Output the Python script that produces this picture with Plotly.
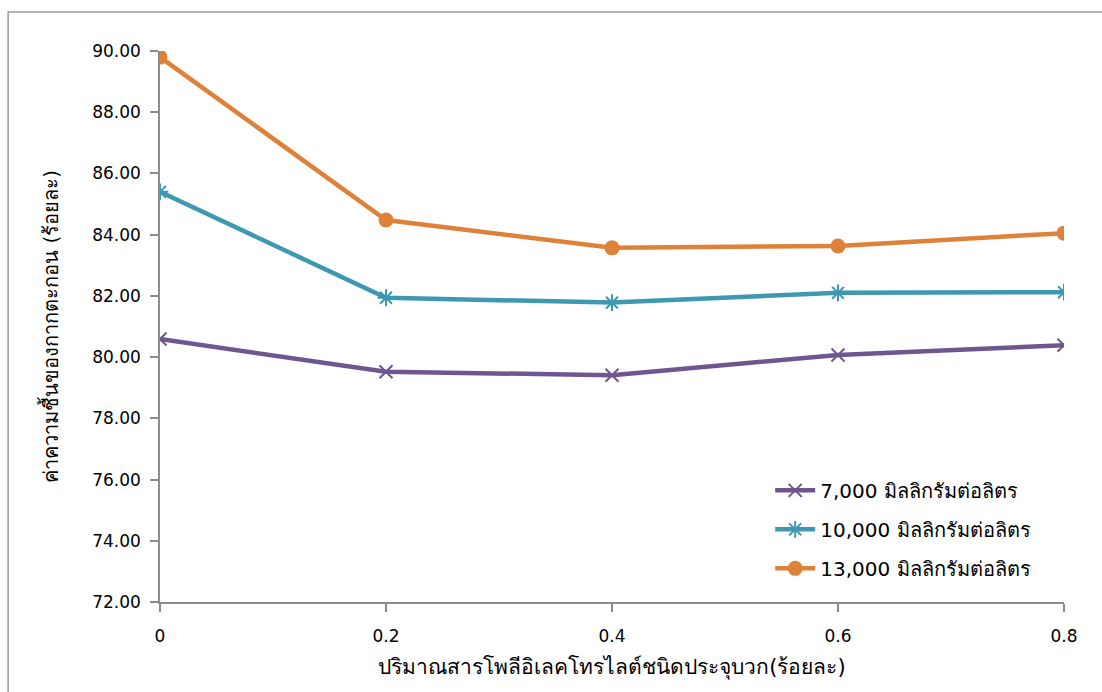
import plotly.graph_objects as go

# Polyelectrolyte dose (%) and sludge cake moisture (%) for three concentrations
dose = [0, 0.2, 0.4, 0.6, 0.8]
moist_7000 = [80.59, 79.52, 79.41, 80.07, 80.39]
moist_10000 = [85.40, 81.94, 81.78, 82.10, 82.12]
moist_13000 = [89.80, 84.48, 83.57, 83.63, 84.05]
series_names = ["7,000 มิลลิกรัมต่อลิตร", "10,000 มิลลิกรัมต่อลิตร", "13,000 มิลลิกรัมต่อลิตร"]
y_ticks = [72, 74, 76, 78, 80, 82, 84, 86, 88, 90]
x_ticks = [0, 0.2, 0.4, 0.6, 0.8]
x_tick_text = ["0", "0.2", "0.4", "0.6", "0.8"]

FONT = "Tahoma, 'DejaVu Sans', 'Noto Sans', sans-serif"
purple = "#6E5690"
teal = "#3E98B0"
orange = "#DE823A"

fig = go.Figure()
fig.add_trace(go.Scatter(
    x=dose, y=moist_7000, name=series_names[0], mode="lines+markers", legendgroup="a",
    line=dict(color=purple, width=4.5),
    marker=dict(symbol="x-thin-open", size=13, line=dict(color=purple, width=2), color=purple),
))
fig.add_trace(go.Scatter(
    x=dose, y=moist_10000, name=series_names[1], mode="lines+markers", legendgroup="b",
    line=dict(color=teal, width=4.5),
    marker=dict(symbol="asterisk-open", size=14, line=dict(color=teal, width=2), color=teal),
))
fig.add_trace(go.Scatter(
    x=dose, y=moist_13000, name=series_names[2], mode="lines+markers", legendgroup="c",
    line=dict(color=orange, width=4.5),
    marker=dict(symbol="circle", size=15, color=orange),
))

axis_color = "#8C8C8C"
fig.update_layout(
    width=1102, height=692,
    margin=dict(l=160, r=38, t=51, b=90),
    paper_bgcolor="white", plot_bgcolor="white",
    font=dict(family=FONT, size=16, color="#000000"),
    showlegend=True,
    legend=dict(
        x=0.675, y=0.238, xanchor="left", yanchor="top",
        bgcolor="rgba(0,0,0,0)", font=dict(size=20, family=FONT),
        itemwidth=40, tracegroupgap=10, traceorder="grouped",
    ),
    xaxis=dict(
        range=[0, 0.8], tickvals=x_ticks, ticktext=x_tick_text,
        showgrid=False, zeroline=False,
        showline=True, linecolor=axis_color, linewidth=1.5,
        ticks="outside", ticklen=8, tickcolor=axis_color, tickwidth=1.5,
        tickfont=dict(size=17), ticklabelstandoff=10,
        title=dict(text="ปริมาณสารโพลีอิเลคโทรไลต์ชนิดประจุบวก(ร้อยละ)",
                   font=dict(size=21), standoff=14),
    ),
    yaxis=dict(
        range=[72, 90], tickvals=y_ticks,
        tickformat=".2f",
        showgrid=False, zeroline=False,
        showline=True, linecolor=axis_color, linewidth=1.5,
        ticks="outside", ticklen=8, tickcolor=axis_color, tickwidth=1.5,
        tickfont=dict(size=17), ticklabelstandoff=6,
        title=dict(text="ค่าความชื้นของกากตะกอน (ร้อยละ)", font=dict(size=20), standoff=28),
    ),
    shapes=[dict(
        type="rect", xref="paper", yref="paper",
        x0=-0.168, x1=1.06, y0=-0.2, y1=1.0708,
        line=dict(color="#9A9A9A", width=1.5), fillcolor="rgba(0,0,0,0)", layer="below",
    )],
)

fig.write_html("out.html")
